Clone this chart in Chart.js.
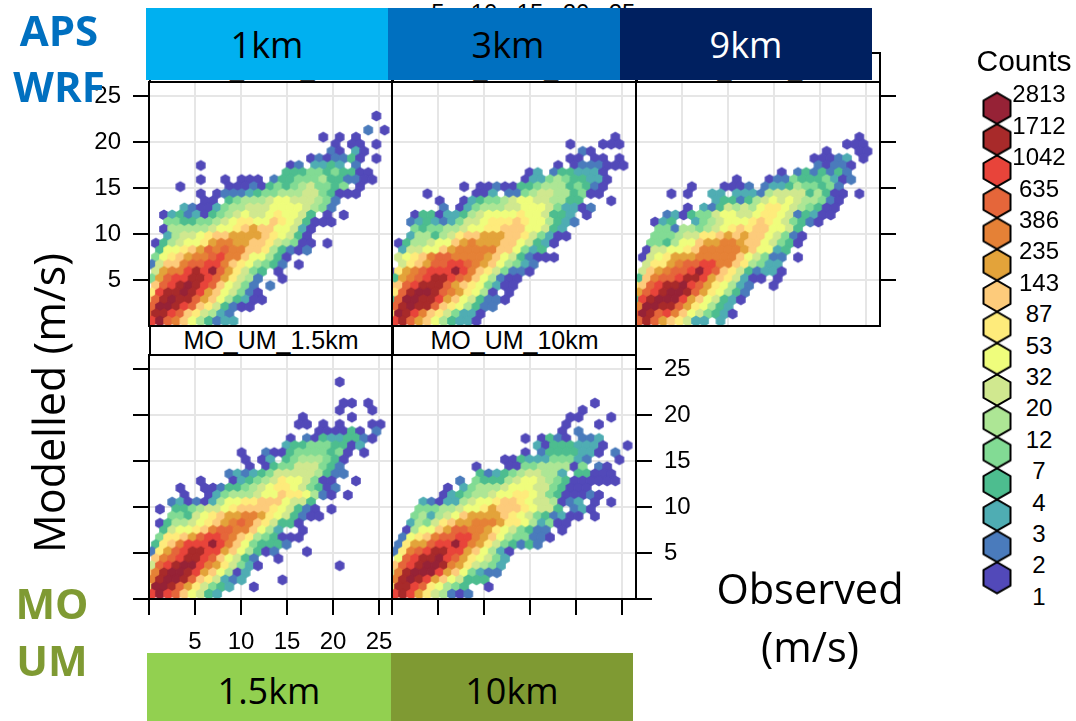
<!DOCTYPE html>
<html>
<head>
<meta charset="utf-8">
<title>Observed vs modelled wind speed</title>
<script src="https://cdn.jsdelivr.net/npm/chart.js@4"></script>
<style>
html, body { margin: 0; background: #fff; overflow: hidden; }
#page { position: relative; width: 1076px; height: 721px; overflow: hidden; font-family: "Liberation Sans", Arial, sans-serif; }
#page canvas { position: absolute; }
.txt { position: absolute; white-space: nowrap; transform: translate(-50%, -50%); line-height: 1; }
.big { font-family: "Open Sans", sans-serif; color: #000; }
.band { position: absolute; z-index: 5; display: flex; align-items: center; justify-content: center; box-sizing: border-box; font-family: "Open Sans", sans-serif; font-size: 36px; }
.tag { font-family: "Open Sans", sans-serif; font-weight: 700; font-size: 42px; z-index: 6; }
.strip { position: absolute; box-sizing: border-box; border: 2px solid #000; text-align: center; font-size: 25px; line-height: 28px; background: #fff; }
</style>
</head>
<body>
<div id="page"></div>
<script>
// legend breaks, top of the colour key is the last one
const countLabels = [1, 2, 3, 4, 7, 12, 20, 32, 53, 87, 143, 235, 386, 635, 1042, 1712, 2813];
const levelColours = ['#5249B9', '#4A7BBC', '#4FADB3', '#4DBD8F', '#82DB94', '#ADE695', '#D0E88F', '#EFFD7C',
    '#FEEB7B', '#FDCB7B', '#E3A33A', '#E58136', '#E5663A', '#E8443A', '#A82A2A', '#962236'];
const axisTicks = [5, 10, 15, 20, 25];

// hexbin cells per panel, top row first. "col:codes", a = lowest count class, p = highest
const apsWrf1km = ['28:a', '', '27:b 29:a', '21:a 23:a 25:a', '23:a 25:aa 28:a', '22:ba 25:ca', '20:ababbda 28:a',
    '6:a 17:ab 20:ccdc 25:b', '17:dddeededdaa', '6:a 9:a 11:aaa 15:bddeeefddbbaa', '4:a 10:aaaba 15:dedefgeede 26:a',
    '6:a 8:abbbcdeefffggedaaa', '7:aa 10:defffghhgggfeb', '4:cbaaceffggghhhhgfeb',
    '2:acdbcadefghgghihhgd 22:a 24:a', '2:eeddeefghiihhjihgdaaa', '2:afffffghhijkjjhhgca', '2:cfgghijjkkkkjihgda',
    '1:adfghhikllkkjjigfeaa 22:a', '1:dhhijkmlmlljjifdbab', '1:ehijkllmnlljhhfda', '0:bgjjlmmnnljihfedb 18:a',
    '1:gkllnonpmkiged 16:a', '0:ekmnnoonmkigfb 16:a', '1:jmnoponmjhgeb 15:b', '0:inooponkjhgeba',
    '0:jmopoomkjhfdcaa', '0:mpponmjigdbaa', '0:moonmjigfcb', '0:npmljhfdbcc'];
const apsWrf3km = ['27:a', '22:a 26:aaa', '23:ba', '22:aa 25:aa 28:a', '20:a 22:abbbaaa', '17:ac 20:bddccca',
    '16:accefeddcca', '9:a 11:aabaaddefffdedba', '4:a 10:aac 14:bbefggffdeaa', '6:a 9:acdeefghhggffdd 27:a',
    '6:b 8:acefffgghhhgeccab', '3:addaccdfghhhhihhgddc 24:a', '2:bcdcbcegghiiijihhfdcb', '3:edeeffghhiijjjhhgdc',
    '2:cffdfgijjkkkjjigecaa', '1:adffghhjklkkkjjhgdca', '1:cgghhjkllllljjhecd', '1:ghijlmmllllkjhgdbaaa',
    '1:gijkmmnnmlkjhfecb', '0:aiklmnnnpnljigebba', '0:dklmnoonmljhfbaa', '0:jjmnooomkjihecaa', '0:imoppomlkihfa 14:a',
    '0:dmppoonkjhgdbba', '0:mopoomjihfdbb', '0:iponljigecca', '0:nomkjhfdcca'];
const apsWrf9km = ['27:a', '26:aaa', '23:a 27:aa', '22:aaabc 28:a', '22:babba', '18:a 20:bdbdbdb',
    '12:a 16:abbedddecab', '7:a 11:aaab 16:bccdfeedeb', '4:a 6:a 9:cc 12:cccbfggggdfdaa 27:a', '10:cddbdfghghgffeba',
    '6:a 8:cbdgfgfhiihgfedaa', '4:bcadeeghhgghiihgbdcaa', '2:acd 7:cefghhhijihgedba', '3:eebffefghijijjhhgd',
    '2:eeefggiijkjkjjhgeba', '2:eedfhhjkkllkjjhgeda', '1:agghhijlllllkjhhcd', '1:aghikkklllllјhgebb 20:a'.normalize('NFC').replace('ј', 'j'),
    '1:giiklmmnnlljifecc', '1:gjklmmnpnmjigdbcca', '0:djlmmnoonkjigcaa 17:a', '0:ijmnoopnmkihfcb 17:a',
    '0:kmnoppomkihfdb', '0:dnopppnkjhgdca', '0:lppoomkihfdc', '0:mpomnljhgedca', '0:momkjigcc 10:c'];
const moUm1p5km = ['23:a', '', '', '24:aa 27:a', '23:a 27:a', '19:a 25:a', '18:aa 21:a 23:a 27:aa', '21:aaaada 28:b',
    '17:a 19:badccddba', '17:cddeeeddac', '11:a 14:baadeeeedea 26:a', '12:a 14:ac 17:defffeda', '12:a 14:adeegggedb',
    '10:bcbcdegggggfdbb', '6:a 10:acdefgihhgeaa 25:a', '4:a 7:aabddefghiihgedab', '4:a 7:acefffghhjiihfba 24:a',
    '3:bcabacfhhiijjjhggd', '1:a 3:ddefgghijjjjihgdba 22:a', '3:eedghijkkllkihgdbaa', '1:adffghijklmljigdda',
    '2:dghhijlmmlljhfc 19:a', '1:eiijkmnnmljifedaaa', '1:dijlnnnpnljhedddb', '0:bikmnoonnkjhfdab 19:a',
    '1:jlmnoonmjhgdb 16:a', '0:gmnoppnlkigeca 23:a', '0:jlopponkjhfac', '0:loppomjigcbc 16:a', '0:ippomkigedc 13:a', '0:npnmjhgdc'];
const moUm10km = ['25:a', '23:a', '22:aa 27:a', '21:a 25:a', '21:a 23:b', '16:a 18:adba 23:bbc', '18:cadddccca 29:a',
    '16:a 18:bddddcca 27:b', '14:aadccceeecb 28:a', '10:a 14:aaeeffffae 25:ba', '11:dbcdefggffc 23:ddaaa',
    '8:b 10:edddfghhgfedaaaaaa', '7:a 9:cefffghhhggedaaa', '6:acdeffghhiihgedaaaba', '4:cbaccfghhijjihggfabc 25:a 27:a',
    '3:eeeffghhikjjjihggd 22:bca', '3:efcfghjkkkkjihgedbcaa 25:a', '2:cfegijkklllkiihfceaa', '2:afhhjkmmllkihgedbb 21:a',
    '1:bhijlmmnnlkjhfeebba', '1:bikkmnnpnlkigedbdb', '0:bilmnoonnkjhfca', '1:hmnoopnmkihgec', '0:jmnoppolkigfec',
    '0:glopppnkjhecbb', '0:loponkjhgddd', '0:ioonmihfed 12:a', '0:nonkigfbab'];

// hexbin lattice in m/s
const binW = 0.888, binH = 0.7685, binX0 = 0.299, binXOdd = -0.147, binY0 = 0.543;
const pxPerUnit = 9.2;

function readCells(rows) {
    const cells = [];
    rows.forEach((row, i) => {
        const r = rows.length - 1 - i;
        row.split(' ').filter(Boolean).forEach(seg => {
            const parts = seg.split(':');
            [...parts[1]].forEach((code, k) => {
                const level = code.charCodeAt(0) - 97;
                cells.push({
                    x: (r % 2 ? binXOdd : binX0) + (+parts[0] + k) * binW,
                    y: binY0 + r * binH,
                    count: countLabels[level],
                    level: level
                });
            });
        });
    });
    return cells;
}

function hexImage(colour, flatWidth, stroke) {
    const size = Math.ceil(flatWidth * 1.25) + 2;
    const c = document.createElement('canvas');
    c.width = size; c.height = size;
    const ctx = c.getContext('2d');
    const rad = flatWidth / Math.sqrt(3);
    ctx.beginPath();
    for (let i = 0; i < 6; i++) {
        const a = Math.PI / 6 + i * Math.PI / 3;
        ctx.lineTo(size / 2 + rad * Math.cos(a), size / 2 + rad * Math.sin(a));
    }
    ctx.closePath();
    ctx.fillStyle = colour;
    ctx.fill();
    if (stroke) { ctx.strokeStyle = '#000'; ctx.lineWidth = 2; ctx.stroke(); }
    return c;
}
const cellImages = levelColours.map(c => hexImage(c, 9.6, false));
const keyImages = levelColours.map(c => hexImage(c, 27, true));

const page = document.getElementById('page');

function addText(text, x, y, cls, css) {
    const el = document.createElement('div');
    el.className = 'txt ' + (cls || '');
    el.textContent = text;
    el.style.left = x + 'px';
    el.style.top = y + 'px';
    Object.assign(el.style, css || {});
    page.appendChild(el);
    return el;
}

function addStrip(text, l, t, w, h, css) {
    const el = document.createElement('div');
    el.className = 'strip';
    el.textContent = text;
    Object.assign(el.style, { left: l + 'px', top: t + 'px', width: w + 'px', height: h + 'px' }, css || {});
    page.appendChild(el);
}

function addBand(text, l, t, w, h, bg, colour, css) {
    const el = document.createElement('div');
    el.className = 'band';
    el.textContent = text;
    Object.assign(el.style, { left: l + 'px', top: t + 'px', width: w + 'px', height: h + 'px', background: bg, color: colour }, css || {});
    page.appendChild(el);
}

const frame = {
    id: 'frame',
    afterDatasetsDraw(chart) {
        const a = chart.chartArea, ctx = chart.ctx;
        ctx.save();
        ctx.strokeStyle = '#000';
        ctx.lineWidth = 2;
        ctx.strokeRect(a.left, a.top, a.right - a.left, a.bottom - a.top);
        ctx.restore();
    }
};

const tickFont = { family: '"Liberation Sans", Arial, sans-serif', size: 24 };
const margin = 30; // has to stay above half a tick label plus its padding or the plot area shrinks

function makePanel(rows, l, t, w, h, o) {
    const canvas = document.createElement('canvas');
    const mL = o.y === 'left' ? 69 : 0, mR = o.y === 'right' ? 69 : 0, mB = o.x ? 60 : 0;
    canvas.width = w + mL + mR + margin * 2;
    canvas.height = h + mB + margin * 2;
    canvas.style.left = (l - mL - margin) + 'px';
    canvas.style.top = (t - margin) + 'px';
    page.appendChild(canvas);

    return new Chart(canvas.getContext('2d'), {
        type: 'scatter',
        data: {
            datasets: [{
                data: readCells(rows),
                clip: 0,
                pointRadius: 5,
                pointStyle: ctx => cellImages[ctx.raw.level]
            }]
        },
        options: {
            responsive: false,
            animation: false,
            events: [],
            layout: { padding: margin },
            plugins: { legend: { display: false }, tooltip: { enabled: false } },
            scales: {
                x: {
                    type: 'linear',
                    position: 'bottom',
                    min: 0,
                    max: w / pxPerUnit,
                    border: { display: false },
                    grid: { color: '#E6E6E6', lineWidth: 2, drawTicks: !!o.x, tickLength: 16, tickColor: '#000', tickWidth: 2 },
                    ticks: {
                        display: !!o.x,
                        stepSize: 5,
                        includeBounds: false,
                        autoSkip: false,
                        maxRotation: 0,
                        padding: 13,
                        color: o.x === 'labels' ? '#000' : 'transparent',
                        font: tickFont,
                        callback: v => (axisTicks.includes(v) ? String(v) : '')
                    },
                    afterFit: s => { s.height = mB; }
                },
                y: {
                    type: 'linear',
                    position: o.y === 'right' ? 'right' : 'left',
                    min: 0,
                    max: h / pxPerUnit,
                    border: { display: false },
                    grid: {
                        color: '#E6E6E6',
                        lineWidth: 2,
                        drawTicks: !!o.y,
                        tickLength: 16,
                        tickWidth: 2,
                        tickColor: c => (o.noZeroTick && c.tick && c.tick.value === 0 ? 'transparent' : '#000')
                    },
                    ticks: {
                        display: !!o.y,
                        stepSize: 5,
                        includeBounds: false,
                        autoSkip: false,
                        padding: 12,
                        color: o.yLabels ? '#000' : 'transparent',
                        font: tickFont,
                        callback: v => (axisTicks.includes(v) ? String(v) : '')
                    },
                    afterFit: s => { s.width = mL + mR; }
                }
            }
        },
        plugins: [frame]
    });
}

// alternating tick labels of the lattice plot, mostly hidden by the coloured bands
axisTicks.forEach(v => addText(String(v), 392 + v * pxPerUnit, 13, '', { fontSize: '24px' }));

const openStrip = { borderTop: 'none', borderBottom: 'none', lineHeight: '30px' };
addStrip('APS_WRF_1km', 149, 52, 244, 31, { borderBottom: 'none' });
addStrip('APS_WRF_3km', 392, 52, 245, 31, { borderBottom: 'none' });
addStrip('APS_WRF_9km', 636, 52, 245, 31, { borderBottom: 'none' });
addStrip('MO_UM_1.5km', 149, 325, 244, 31, openStrip);
addStrip('MO_UM_10km', 392, 325, 245, 31, openStrip);

makePanel(apsWrf1km, 149, 82, 243, 244, { y: 'left', yLabels: true, noZeroTick: true });
makePanel(apsWrf3km, 392, 82, 244, 244, {});
makePanel(apsWrf9km, 636, 82, 244, 244, { y: 'right', noZeroTick: true });
makePanel(moUm1p5km, 149, 355, 243, 244, { y: 'left', x: 'labels' });
makePanel(moUm10km, 392, 355, 244, 244, { y: 'right', yLabels: true, x: 'marks' });

// colour key
const keyCanvas = document.createElement('canvas');
keyCanvas.width = 50;
keyCanvas.height = 532;
keyCanvas.style.left = '972px';
keyCanvas.style.top = '77px';
page.appendChild(keyCanvas);
new Chart(keyCanvas.getContext('2d'), {
    type: 'scatter',
    data: {
        datasets: [{
            data: levelColours.map((c, i) => ({ x: 0, y: i })),
            clip: false,
            pointRadius: 16,
            pointStyle: ctx => keyImages[ctx.dataIndex]
        }]
    },
    options: {
        responsive: false,
        animation: false,
        events: [],
        layout: { autoPadding: false },
        plugins: { legend: { display: false }, tooltip: { enabled: false } },
        scales: {
            x: { display: false, min: -1, max: 1 },
            y: { display: false, min: -1, max: 16 }
        }
    }
});
addText('Counts', 1024, 61, '', { fontSize: '30px' });
countLabels.forEach((v, i) => addText(String(v), 1039, 596.7 - i * 31.4, '', { fontSize: '24px' }));

// coloured bands and captions pasted over the plot
addBand('1km', 146, 8, 242, 72, '#00B0F0', '#000');
addBand('3km', 388, 8, 232, 72, '#0070C0', '#000', { paddingLeft: '8px' });
addBand('9km', 620, 8, 252, 72, '#002060', '#fff');
addBand('1.5km', 147, 653, 244, 68, '#92D050', '#000', { paddingTop: '6px' });
addBand('10km', 391, 653, 242, 68, '#7F9A33', '#000', { paddingTop: '6px' });

addText('APS', 59, 30, 'tag', { color: '#0070C0' });
addText('WRF', 59, 86, 'tag', { color: '#0070C0' });
addText('MO', 52, 603, 'tag', { color: '#7F9A33' });
addText('UM', 52, 660, 'tag', { color: '#7F9A33' });
addText('Modelled (m/s)', 48, 403, 'big', { fontSize: '43px', transform: 'translate(-50%, -50%) rotate(-90deg)' });
addText('Observed', 810, 589, 'big', { fontSize: '41.5px' });
addText('(m/s)', 810, 647, 'big', { fontSize: '41.5px' });
</script>
</body>
</html>
